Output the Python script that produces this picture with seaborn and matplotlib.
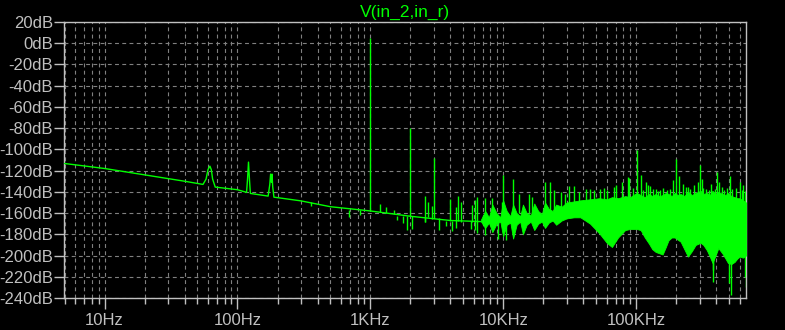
import numpy as np
import matplotlib
matplotlib.use("Agg")
import matplotlib.pyplot as plt
import matplotlib.ticker as mticker
import seaborn as sns

# --- data ---
title = "V(in_2,in_r)"

# baseline trace (low frequency part, incl. 60/120/180 Hz hum)
floor_hz = [5, 10, 20, 40, 55, 58, 60, 62, 63.5, 65, 68, 100, 117, 119, 121, 123, 125,
            170, 175, 177.5, 180, 182, 184, 188, 300, 500, 1000, 2000, 4000, 6800]
floor_db = [-113.3, -118, -124, -130, -133, -128, -119, -115.8, -119, -128, -135.5,
            -138, -140.5, -128, -112, -128, -141.5, -144, -133, -123.3, -131, -123.3,
            -135, -145, -148.5, -154, -158, -163, -167, -168]

# dense region envelope (above ~7 kHz)
band_hz = [6800, 7300, 7800, 8270, 8900, 9500, 9960, 10600, 11300, 11850, 12600, 13400,
           14050, 15000, 16100, 17100, 18300, 19500, 20600, 22000, 23500, 25000, 27500,
           30000, 34000, 38000, 45000, 52700, 60000, 65700, 73000, 82600, 90000, 95000,
           101000, 108000, 116000, 125000, 132000, 140000, 150000, 158000, 167000,
           175000, 185000, 195000, 205000, 216000, 230000, 245000, 262000, 280000,
           305000, 320000, 340000, 358000, 375000, 395000, 415000, 445000, 470000,
           490000, 520000, 550000, 575000, 600000, 635000, 670000]
band_lo = [-168, -174, -169, -178, -170, -168, -182, -171, -169, -184, -171, -168,
           -180, -171, -168, -176, -170, -168, -174, -169, -167, -171, -167,
           -165, -164, -164, -170, -179, -188, -192, -183, -176, -175, -175,
           -175, -176, -183, -189, -194, -196.6, -198, -199, -192,
           -185.6, -183, -183, -185, -187, -194, -201, -196, -190,
           -188, -190, -195, -201, -207, -200, -193, -198, -203,
           -207, -208, -206, -203, -201, -202, -200]
band_hi = [-166, -158, -164, -152, -160, -164, -148, -158, -163, -152, -160, -163,
           -152, -160, -162, -151, -158, -161, -150, -156, -158, -152, -154,
           -150, -149, -148, -147, -146, -147, -145, -146, -144, -145, -143,
           -141, -143, -145, -142, -144, -142, -144, -143, -141,
           -142, -144, -141, -143, -142, -144, -140, -143, -141,
           -139, -142, -141, -143, -139, -142, -140, -142, -143,
           -141, -144, -145, -146, -146, -148, -150]

# single spectral lines (freq, bottom, top)
spike_hz = [360, 687, 840, 1000, 1175, 1320, 1500, 1590, 1750, 1900, 2000, 2060,
            2560, 2590, 2700, 2900, 3000, 3270, 3700, 4000, 4100, 4400, 4600, 4830,
            5750, 5800, 6100, 6300, 6300, 7300, 7300, 8250, 9100, 9770, 9950, 10500,
            11800, 13200, 15600, 16500, 20600, 22500, 24000, 27000, 29000, 31400, 34000,
            37000, 42000, 45000, 48000, 53000, 56900, 60000, 67500, 71000, 78600, 86700,
            89000, 101000, 108000, 118000, 128000, 140000, 150000, 190000, 200000,
            210000, 225000, 245000, 290000, 300000, 310000, 335000, 405000, 420000,
            505000, 560000, 600000, 640000,
            94000, 113000, 122000, 134000, 145000, 160000, 170000, 180000, 237000,
            255000, 270000, 320000, 350000, 365000, 390000, 440000, 460000, 480000,
            530000, 620000, 660000,
            375000, 380000, 500000, 515000, 655000, 665000]
spike_lo = [-153, -163.6, -162, -158, -159, -160, -161, -166.7, -169.8, -175.5, -163, -175,
            -168, -168, -164, -166, -165, -176, -172, -167, -176.8, -174, -167, -168,
            -175, -168, -176, -178.7, -168, -180.2, -168, -168, -184, -168, -165, -185.6,
            -160, -160, -160, -160, -158, -158, -158, -158, -158, -158, -158,
            -158, -158, -158, -158, -158, -158, -158, -158, -158, -158, -158,
            -158, -158, -158, -158, -158, -158, -158, -158, -158,
            -158, -158, -158, -158, -158, -158, -158, -158, -158,
            -158, -158, -158, -158,
            -158, -158, -158, -158, -158, -158, -158, -158, -158,
            -158, -158, -158, -158, -158, -158, -158, -158, -158,
            -158, -158, -158,
            -225, -214, -226, -237.5, -220, -230]
spike_hi = [-150, -157, -157, 4.5, -151, -154, -157, -163, -163, -163, -80.3, -163,
            -144, -165, -150, -153, -108.5, -165, -167, -147, -167, -154, -144, -150,
            -167, -152, -148, -167, -145.3, -168, -146, -146, -168, -150, -124.3, -168,
            -128, -142, -142, -145, -130.6, -130.6, -138, -140, -142, -134.7, -134.7,
            -140, -137, -137, -138, -137, -136, -138, -135.5, -134, -130.6, -126,
            -127.4, -100.7, -124.3, -131, -134.7, -137, -138, -128.6, -109.5,
            -125.2, -133, -135, -131, -114.9, -128, -137, -121.2, -131,
            -125.2, -136, -130.6, -134,
            -136, -138, -134, -137, -139, -136, -138, -137, -135,
            -137, -134, -136, -138, -133, -137, -135, -138, -136,
            -137, -138, -139,
            -195, -195, -195, -195, -190, -190]

# --- drawing ---
sns.set_theme(style="dark")
plt.rcParams["font.family"] = ["Liberation Sans", "DejaVu Sans"]

green = "#00ff00"
fg = "#c0c0c0"

fig = plt.figure(figsize=(7.85, 3.30), dpi=100, facecolor="black")
ax = fig.add_axes([64 / 785, 1 - 298 / 330, 682 / 785, 276 / 330])
ax.set_facecolor("black")

ax.set_xscale("log")
ax.fill_between(band_hz, band_lo, band_hi, color=green, lw=0.6, zorder=3)
ax.vlines(spike_hz, spike_lo, spike_hi, color=green, lw=1.0, zorder=3)
sns.lineplot(x=floor_hz, y=floor_db, ax=ax, color=green, lw=1.0,
             estimator=None, sort=False, zorder=4)

ax.set_xlim(4.95, 670000)
ax.set_ylim(-240, 20)

# ticks and grid in LTspice manner
ax.xaxis.set_major_locator(mticker.FixedLocator([10, 100, 1000, 10000, 100000]))
ax.xaxis.set_major_formatter(mticker.FixedFormatter(["10Hz", "100Hz", "1KHz", "10KHz", "100KHz"]))
ax.xaxis.set_minor_locator(mticker.LogLocator(base=10, subs=np.arange(2, 10), numticks=20))
ax.xaxis.set_minor_formatter(mticker.NullFormatter())
ax.yaxis.set_major_locator(mticker.MultipleLocator(20))
ax.yaxis.set_major_formatter(mticker.FuncFormatter(lambda v, p: f"{int(round(v))}dB"))

ax.tick_params(axis="x", which="major", length=8, width=1, color=fg, labelcolor=fg,
               labelsize=12, pad=3, bottom=True)
ax.tick_params(axis="x", which="minor", length=4, width=1, color=fg, bottom=True)
ax.tick_params(axis="y", which="major", length=7, width=1, color=fg, labelcolor=fg,
               labelsize=12, pad=1, left=True)

ax.grid(True, which="both", axis="x", color="#808080", lw=0.8, linestyle=(0, (3.5, 3)))
ax.grid(True, which="major", axis="y", color="#808080", lw=0.8, linestyle=(0, (3.5, 3)))

for s in ax.spines.values():
    s.set_visible(True)
    s.set_color(fg)
    s.set_linewidth(1.0)

ax.set_xlabel("")
ax.set_ylabel("")
ax.set_title(title, color=green, fontsize=12.5, pad=4)

fig.savefig("out.png", dpi=100, facecolor="black")
